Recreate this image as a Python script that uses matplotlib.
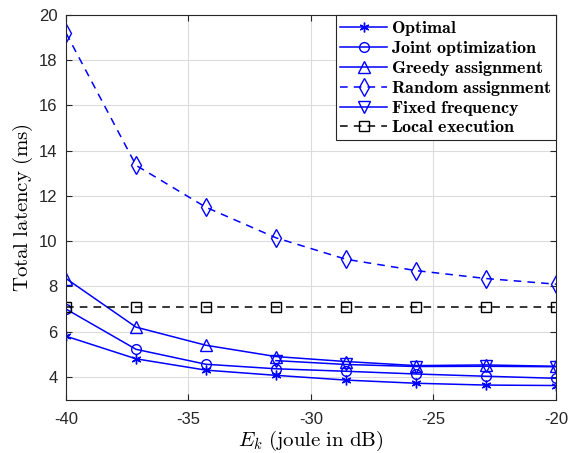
import numpy as np
import matplotlib
matplotlib.use("Agg")
import matplotlib.pyplot as plt

plt.rcParams['font.family'] = ['Liberation Sans', 'DejaVu Sans']
plt.rcParams['mathtext.fontset'] = 'cm'
plt.rcParams['axes.unicode_minus'] = False

nan = np.nan
ek = [-40, -37.14, -34.29, -31.43, -28.57, -25.71, -22.86, -20]
optimal = [5.8, 4.8, 4.3, 4.07, 3.86, 3.72, 3.64, 3.62]
joint = [7.0, 5.22, 4.56, 4.36, 4.25, 4.13, 4.03, 3.94]
greedy = [8.35, 6.2, 5.4, 4.9, 4.68, 4.5, 4.53, 4.47]
random_assign = [19.2, 13.35, 11.5, 10.15, 9.2, 8.7, 8.35, 8.1]
fixed = [nan, nan, nan, 4.72, 4.55, 4.46, 4.47, 4.45]
local = [7.1] * 8

fig = plt.figure(figsize=(5.71, 4.53), dpi=100)
ax = fig.add_axes([0.1156, 0.118, 0.858, 0.849])

blue = '#0000ff'
ms = 7
ax.plot(ek, optimal, color=blue, lw=1.1, marker=(6, 2, 0), ms=ms, mew=1.0,
        label=r'$\mathbf{Optimal}$')
ax.plot(ek, joint, color=blue, lw=1.1, marker='o', ms=ms, mfc='none', mew=1.0,
        label=r'$\mathbf{Joint\ optimization}$')
ax.plot(ek, greedy, color=blue, lw=1.1, marker='^', ms=ms + 1, mfc='none', mew=1.0,
        label=r'$\mathbf{Greedy\ assignment}$')
ax.plot(ek, random_assign, color=blue, lw=1.1, ls=(0, (5, 4)), marker='d', ms=ms + 2,
        mfc='none', mew=1.0, label=r'$\mathbf{Random\ assignment}$')
ax.plot(ek, fixed, color=blue, lw=1.1, marker='v', ms=ms + 1, mfc='none', mew=1.0,
        label=r'$\mathbf{Fixed\ frequency}$')
ax.plot(ek, local, color='black', lw=1.1, ls=(0, (5, 4)), marker='s', ms=ms,
        mfc='none', mew=1.0, label=r'$\mathbf{Local\ execution}$')

ax.set_xlim(-40, -20)
ax.set_ylim(3, 20)
ax.set_xticks([-40, -35, -30, -25, -20])
ax.set_yticks(np.arange(4, 21, 2))
ax.grid(True, color='#dcdcdc', lw=0.8)
ax.set_axisbelow(True)
ax.tick_params(direction='in', length=4, top=True, right=True, labelsize=12,
               colors='#262626', width=0.8)
ax.tick_params(axis='x', pad=9)
ax.tick_params(axis='y', pad=6)
for s in ax.spines.values():
    s.set_color('#262626')
    s.set_linewidth(0.8)

ax.set_xlabel(r'$E_k\ \mathrm{(joule\ in\ dB)}$', fontsize=15, labelpad=1)
ax.set_ylabel(r'$\mathrm{Total\ latency\ (ms)}$', fontsize=15, labelpad=3)

leg = ax.legend(loc='upper right', fontsize=13, borderaxespad=0, fancybox=False,
                framealpha=1, edgecolor='#262626', handlelength=2.6,
                handletextpad=0.2, labelspacing=0.05, borderpad=0.25)
leg.get_frame().set_linewidth(0.8)

fig.savefig('out.png', dpi=100)
